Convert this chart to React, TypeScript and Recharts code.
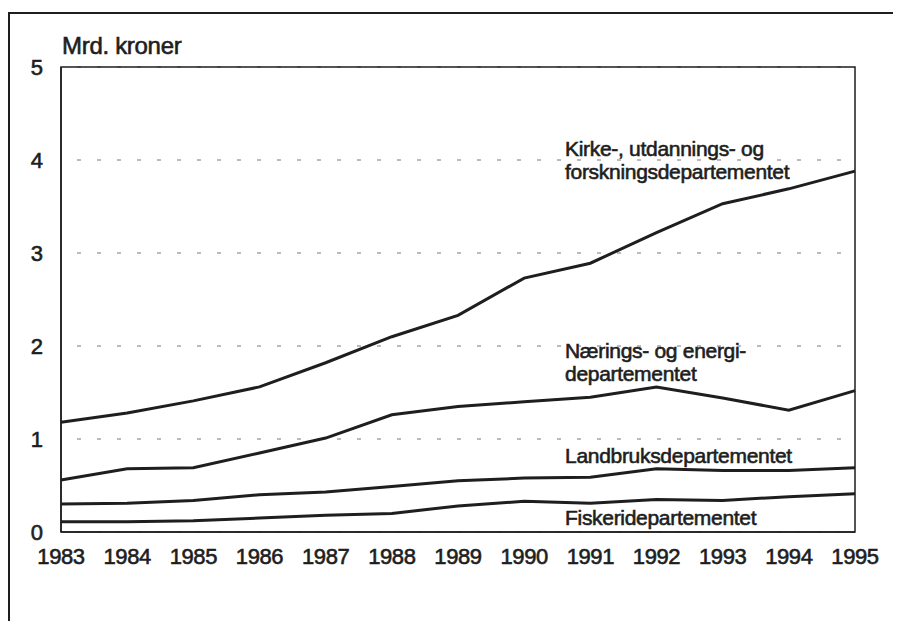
import { LineChart, Line, XAxis, YAxis, CartesianGrid, ReferenceArea, Customized } from "recharts";

const YEARS = [1983, 1984, 1985, 1986, 1987, 1988, 1989, 1990, 1991, 1992, 1993, 1994, 1995];
const KIRKE = [1.18, 1.28, 1.41, 1.56, 1.82, 2.1, 2.33, 2.73, 2.89, 3.22, 3.53, 3.69, 3.88];
const NAERINGS = [0.56, 0.68, 0.69, 0.85, 1.01, 1.26, 1.35, 1.4, 1.45, 1.56, 1.44, 1.31, 1.52];
const LANDBRUKS = [0.3, 0.31, 0.34, 0.4, 0.43, 0.49, 0.55, 0.58, 0.59, 0.68, 0.66, 0.66, 0.69];
const FISKERI = [0.11, 0.11, 0.12, 0.15, 0.18, 0.2, 0.28, 0.33, 0.31, 0.35, 0.34, 0.38, 0.41];
const Y_TICKS = [0, 1, 2, 3, 4, 5];
const SERIES = ["kirke", "naerings", "landbruks", "fiskeri"];

const data = YEARS.map((year, i) => ({
  year,
  kirke: KIRKE[i],
  naerings: NAERINGS[i],
  landbruks: LANDBRUKS[i],
  fiskeri: FISKERI[i],
}));

const FONT = "'Liberation Sans', Arial, sans-serif";
const INK = "#1e1e1e";

const textStyle = {
  fontFamily: FONT,
  fill: INK,
  stroke: INK,
  strokeWidth: 0.6,
};

// series names, placed as in the original print
const NOTES = [
  { lines: ["Kirke-, utdannings- og", "forskningsdepartementet"], x: 557, y: 140 },
  { lines: ["Nærings- og energi-", "departementet"], x: 557, y: 342 },
  { lines: ["Landbruksdepartementet"], x: 557, y: 447 },
  { lines: ["Fiskeridepartementet"], x: 557, y: 509 },
];

const Notes = () => (
  <g>
    {/* outer frame, open to the right and bottom */}
    <line x1={1} y1={4} x2={1} y2={613} stroke={INK} strokeWidth={2} />
    <line x1={0} y1={5} x2={893} y2={5} stroke={INK} strokeWidth={2} />
    <text x={54} y={37} dominantBaseline="central" fontSize={24} style={textStyle} letterSpacing={-0.3}>
      Mrd. kroner
    </text>
    {NOTES.map((n) =>
      n.lines.map((line, j) => (
        <text
          key={line}
          x={n.x}
          y={n.y + j * 23.5}
          dominantBaseline="central"
          fontSize={21}
          letterSpacing={-0.3}
          style={textStyle}
        >
          {line}
        </text>
      ))
    )}
  </g>
);

export default function App() {
  return (
    <LineChart width={893} height={613} data={data} margin={{ top: 59, right: 46, bottom: 49, left: 0 }}>
      <CartesianGrid vertical={false} stroke="#777" strokeWidth={1} strokeDasharray="4 16" strokeDashoffset={-16} />
      <XAxis
        dataKey="year"
        type="number"
        domain={[1983, 1995]}
        ticks={YEARS}
        height={40}
        tickSize={0}
        tickMargin={16}
        axisLine={{ stroke: INK, strokeWidth: 1.5 }}
        tick={{ fontSize: 22, fontFamily: FONT, fill: INK, stroke: INK, strokeWidth: 0.6, letterSpacing: -0.4 }}
      />
      <YAxis
        domain={[0, 5]}
        ticks={Y_TICKS}
        width={53}
        tickSize={0}
        tickMargin={18}
        axisLine={{ stroke: INK, strokeWidth: 1.5 }}
        tick={{ fontSize: 22, fontFamily: FONT, fill: INK, stroke: INK, strokeWidth: 0.6 }}
      />
      <ReferenceArea x1={1983} x2={1995} y1={0} y2={5} fill="none" stroke={INK} strokeWidth={1.5} />
      {SERIES.map((key) => (
        <Line
          key={key}
          type="linear"
          dataKey={key}
          stroke={INK}
          strokeWidth={3}
          dot={false}
          activeDot={false}
          isAnimationActive={false}
        />
      ))}
      <Customized component={<Notes />} />
    </LineChart>
  );
}
